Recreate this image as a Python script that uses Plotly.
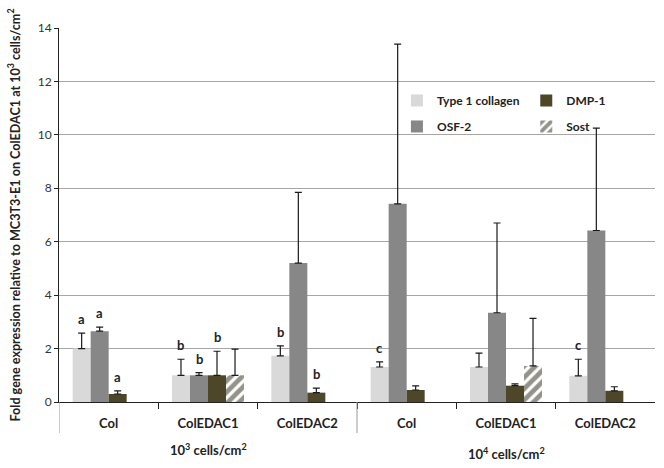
import plotly.graph_objects as go

categories = ["Col", "ColEDAC1", "ColEDAC2", "Col", "ColEDAC1", "ColEDAC2"]
group_labels = ["10<sup>3</sup> cells/cm<sup>2</sup>", "10<sup>4</sup> cells/cm<sup>2</sup>"]
group_centers = [1, 4]  # category index at the centre of each group

series_names = ["Type 1 collagen", "OSF-2", "DMP-1", "Sost"]
type1 = [2.0, 1.0, 1.73, 1.31, 1.31, 0.98]
type1_err = [0.58, 0.6, 0.37, 0.19, 0.52, 0.62]
osf2 = [2.65, 1.0, 5.2, 7.42, 3.34, 6.42]
osf2_err = [0.15, 0.1, 2.65, 5.98, 3.36, 3.83]
dmp1 = [0.3, 1.0, 0.35, 0.45, 0.61, 0.42]
dmp1_err = [0.12, 0.9, 0.17, 0.15, 0.07, 0.15]
sost = [None, 1.0, None, None, 1.35, None]
sost_err = [0, 0.98, 0, 0, 1.78, 0]

# significance letters: (category index, series index, letter)
letter_cat = [0, 0, 0, 1, 1, 1, 2, 2, 3, 5]
letter_series = [0, 1, 2, 0, 1, 2, 0, 2, 0, 0]
letter_text = ["a", "a", "a", "b", "b", "b", "b", "b", "c", "c"]

colors = ["#d9d9d9", "#878787", "#4d4628", "#ffffff"]
FONT = "Lato"

xpos = list(range(len(categories)))
values = [type1, osf2, dmp1, sost]
errors = [type1_err, osf2_err, dmp1_err, sost_err]
legend_ids = ["legend", "legend", "legend2", "legend2"]

fig = go.Figure()
for i, name in enumerate(series_names):
    marker = dict(color=colors[i], line=dict(width=0))
    if name == "Sost":
        marker = dict(color="#ffffff", line=dict(width=0),
                      pattern=dict(shape="/", fgcolor="#2a2615", bgcolor="#ffffff",
                                   size=8, solidity=0.6))
    fig.add_trace(go.Bar(
        x=xpos, y=values[i], name=name, marker=marker,
        legend=legend_ids[i], legendgroup=name,
        error_y=dict(type="data", array=errors[i], arrayminus=[0] * len(xpos),
                     symmetric=False, color="#1a1a1a", thickness=1.2, width=3.5),
    ))

bargap = 0.275
n = len(series_names)
w = (1 - bargap) / n
for c, s, t in zip(letter_cat, letter_series, letter_text):
    top = values[s][c] + errors[s][c]
    fig.add_annotation(x=c + (s - (n - 1) / 2) * w, y=top, xref="x", yref="y",
                       text=t, showarrow=False, yanchor="bottom", yshift=4,
                       font=dict(family=FONT, size=13, color="#222222", weight="bold"))

# group labels under the category labels
for k, (lab, cx) in enumerate(zip(group_labels, group_centers)):
    fig.add_annotation(x=cx, y=-0.128 - 0.01 * k, xref="x", yref="paper", text=lab,
                       showarrow=False, yanchor="middle",
                       font=dict(family=FONT, size=13, color="#222222", weight="bold"))

# dividers between the groups
for xv in [-0.5, 2.5]:
    fig.add_shape(type="line", x0=xv, x1=xv, y0=0, y1=-0.083, xref="x", yref="paper",
                  line=dict(color="#9a9a9a", width=1))

fig.update_layout(
    width=664, height=468,
    margin=dict(l=59, r=9, t=28, b=66),
    paper_bgcolor="white", plot_bgcolor="white",
    barmode="group", bargap=bargap, bargroupgap=0,
    font=dict(family=FONT, color="#222222"),
    legend=dict(x=0.567, y=0.845, xanchor="left", yanchor="top",
                bgcolor="rgba(255,255,255,0)", traceorder="grouped", tracegroupgap=7,
                font=dict(family=FONT, size=12, color="#222222", weight="bold")),
    legend2=dict(x=0.784, y=0.845, xanchor="left", yanchor="top",
                 bgcolor="rgba(255,255,255,0)", traceorder="grouped", tracegroupgap=7,
                 font=dict(family=FONT, size=12, color="#222222", weight="bold")),
    showlegend=True,
)

fig.update_yaxes(
    range=[0, 14], dtick=2, showgrid=True, gridcolor="#a6a6a6", gridwidth=1,
    zeroline=False, showline=True, linecolor="#222222", linewidth=1,
    ticks="outside", ticklen=4, tickcolor="#222222", automargin=False,
    tickfont=dict(family=FONT, size=12, color="#333333"),
    title=dict(text="Fold gene expression relative to MC3T3-E1 on ColEDAC1 at 10<sup>3</sup> cells/cm<sup>2</sup>",
               font=dict(family=FONT, size=12.6, color="#222222", weight="bold"), standoff=14),
)
fig.update_xaxes(
    range=[-0.5, len(categories) - 0.5], tickmode="array", tickvals=xpos, ticktext=categories,
    showline=True, linecolor="#222222", linewidth=1, showgrid=False, zeroline=False,
    ticks="", ticklabelstandoff=9, automargin=False,
    minor=dict(tickmode="array", tickvals=[0.5, 1.5, 2.5, 3.5, 4.5], ticks="outside",
               ticklen=6, tickcolor="#222222", showgrid=False),
    tickfont=dict(family=FONT, size=13, color="#222222", weight="bold"),
)

fig.write_html("out.html", config={"displayModeBar": False},
               post_script="document.body.style.margin='0';")
